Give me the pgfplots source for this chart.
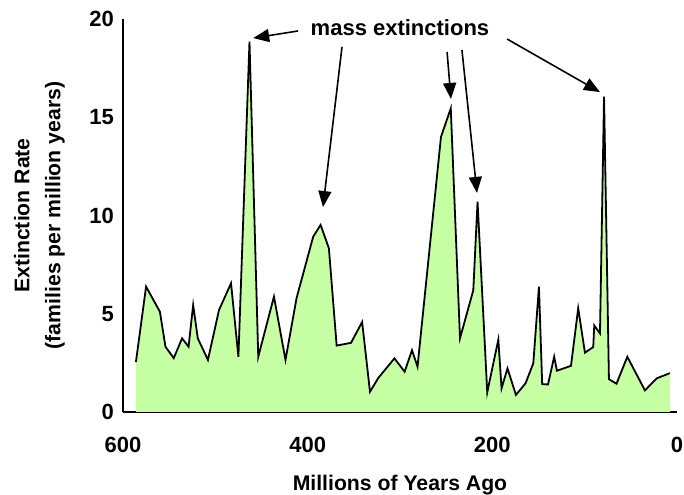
\documentclass[border=0pt]{standalone}
\usepackage{fontspec}
\setmainfont{Liberation Sans}
\usepackage{pgfplots}
\pgfplotsset{compat=1.18}
\usepackage{pgfplotstable}
\usetikzlibrary{arrows.meta}
\definecolor{fillgreen}{RGB}{198,255,164}

% extinction rate
\pgfplotstableread{
x y
586 2.54
575 6.38
560 5.10
554 3.32
545 2.74
536 3.75
529 3.32
524 5.44
519 3.75
508 2.65
496 5.19
483 6.55
475 2.81
463 18.85
453.5 2.81
436.5 5.87
424 2.65
412 5.80
394 8.92
386 9.52
377 8.33
368.6 3.38
353 3.52
341 4.58
332.5 1.03
323.5 1.73
306 2.73
295 2.05
287 3.14
281 2.31
255.6 14.0
245 15.45
235 3.75
220.6 6.2
216 10.7
205.5 1.0
193.5 3.68
190 1.2
183.6 2.22
174.4 0.87
164 1.46
155.6 2.48
149.5 6.38
146 1.42
139.7 1.40
133 2.81
130 2.10
114.8 2.35
107 5.28
99.7 3.02
90.7 3.30
89.6 4.40
83.4 4.00
79 16.05
73.7 1.67
65.5 1.44
53.8 2.81
34.7 1.10
22 1.71
7.6 1.98
}\rates

\begin{document}
\begin{tikzpicture}
\begin{axis}[
  name=ax,
  scale only axis, width=277pt, height=196.5pt,
  xmin=0, xmax=600, ymin=0, ymax=20, x dir=reverse,
  axis x line=bottom, axis y line=left,
  axis line style={-, line width=1.3pt},
  xtick={0,200,400,600}, ytick={0,5,10,15,20},
  major tick length=0pt,
  /pgf/number format/assume math mode=true,
  tick label style={font=\fontsize{11}{13}\selectfont\bfseries},
  xticklabel style={yshift=-9pt},
  yticklabel style={xshift=-1pt},
  xlabel={Millions of Years Ago},
  ylabel={Extinction Rate\\(families per million years)},
  label style={font=\fontsize{10.6}{15.5}\selectfont\bfseries, align=center},
  xlabel style={at={(axis description cs:0.5,0)}, anchor=center, yshift=-36.5pt},
  ylabel style={at={(axis description cs:0,0.5)}, anchor=center, yshift=41.75pt},
  clip=false,
]
\addplot[fill=fillgreen, draw=none] table[x=x, y=y] {\rates} \closedcycle;
\addplot[black, line width=0.9pt] table[x=x, y=y] {\rates};

\node[font=\fontsize{11}{13}\selectfont\bfseries] at (axis cs:300,19.55) {mass extinctions};
\begin{scope}[line width=0.8pt, -{Triangle[length=8pt, width=6.5pt]}]
  \draw (axis cs:410.5,19.39) -- (axis cs:459,19.03);
  \draw (axis cs:362.8,18.58) -- (axis cs:383.4,10.43);
  \draw (axis cs:249,18.32) -- (axis cs:244.8,15.93);
  \draw (axis cs:232.9,18.42) -- (axis cs:216.6,11.15);
  \draw (axis cs:184,18.98) -- (axis cs:83.4,16.28);
\end{scope}
\end{axis}
% page frame as in the reference
\pgfresetboundingbox
\path[use as bounding box] ([xshift=-61.5pt, yshift=-41.5pt]ax.south west)
  rectangle ([xshift=3.5pt, yshift=9.5pt]ax.north east);
\end{tikzpicture}
\end{document}
